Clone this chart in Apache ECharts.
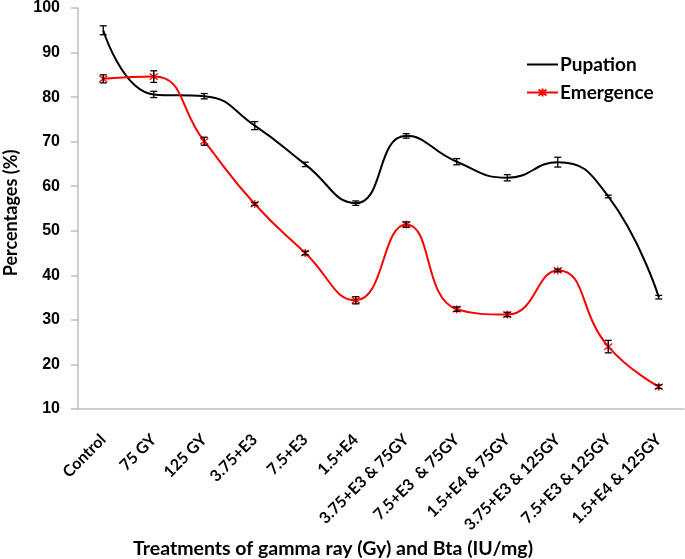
<!DOCTYPE html>
<html>
<head>
<meta charset="utf-8">
<script src="https://cdn.jsdelivr.net/npm/echarts@6/dist/echarts.min.js"></script>
<style>html,body{margin:0;padding:0;background:#fff}#c{width:685px;height:559px}</style>
</head>
<body>
<div id="c"></div>
<script>
const categories = ['Control','75 GY','125 GY','3.75+E3','7.5+E3','1.5+E4','3.75+E3 & 75GY','7.5+E3  & 75GY','1.5+E4 & 75GY','3.75+E3 & 125GY','7.5+E3 & 125GY','1.5+E4 & 125GY'];
const pupation = [95.0, 80.6, 80.2, 73.6, 64.9, 56.2, 71.3, 65.5, 61.9, 65.4, 57.7, 35.1];
const pupationErr = [1.0, 0.7, 0.6, 0.9, 0.5, 0.5, 0.5, 0.7, 0.7, 1.1, 0.3, 0.4];
const emergence = [84.1, 84.6, 70.1, 56.0, 45.0, 34.4, 51.4, 32.4, 31.2, 41.1, 24.0, 15.0];
const emergenceErr = [0.9, 1.3, 0.9, 0.3, 0.4, 0.8, 0.6, 0.5, 0.5, 0.3, 1.4, 0.4];
const yTicks = {min: 10, max: 100, interval: 10};

const FONT = 'Lato';
function errData(vals, errs){ return vals.map((v,i)=>[i, v-errs[i], v+errs[i]]); }
function renderErr(params, api){
  const i = api.value(0);
  const lo = api.coord([i, api.value(1)]);
  const hi = api.coord([i, api.value(2)]);
  const w = 3.5;
  const st = {stroke:'#000', lineWidth:1.3};
  return {type:'group', children:[
    {type:'line', shape:{x1:lo[0],y1:lo[1],x2:hi[0],y2:hi[1]}, style:st},
    {type:'line', shape:{x1:lo[0]-w,y1:lo[1],x2:lo[0]+w,y2:lo[1]}, style:st},
    {type:'line', shape:{x1:hi[0]-w,y1:hi[1],x2:hi[0]+w,y2:hi[1]}, style:st}
  ]};
}
const asterisk = 'path://M-1,-1L1,1M-1,1L1,-1M0,-1.3L0,1.3';

const chart = echarts.init(document.getElementById('c'));
chart.setOption({
  animation:false,
  backgroundColor:'#fff',
  grid:{left:78, right:1, top:6, bottom:150, containLabel:false},
  legend:{
    data:[{name:'Pupation', itemStyle:{opacity:0}}, {name:'Emergence'}], orient:'vertical', left:521, top:50,
    itemWidth:31, itemHeight:10, itemGap:9,
    textStyle:{fontFamily:FONT, fontWeight:'bold', fontSize:19, color:'#000', padding:[0,0,0,-3]}
  },
  xAxis:{
    type:'category', data:categories, boundaryGap:true,
    axisLine:{lineStyle:{color:'#bfbfbf', width:1.5}},
    axisTick:{show:false},
    axisLabel:{interval:0, rotate:45, margin:28, fontFamily:FONT, fontWeight:'bold', fontSize:16, color:'#000'}
  },
  yAxis:{
    type:'value', min:yTicks.min, max:yTicks.max, interval:yTicks.interval,
    splitLine:{show:false},
    axisLine:{show:true, lineStyle:{color:'#bfbfbf', width:1.5}},
    axisTick:{show:true, length:7, lineStyle:{color:'#bfbfbf', width:1.5}},
    axisLabel:{margin:18, fontFamily:'Liberation Sans', fontWeight:'bold', fontSize:16, color:'#000'}
  },
  graphic:[
    {type:'text', left:133, top:539, style:{text:'Treatments of gamma ray (Gy) and Bta (IU/mg)', font:'bold 19.5px Lato', fill:'#000'}},
    {type:'text', x:11, y:213, rotation:Math.PI/2, style:{text:'Percentages (%)', font:'bold 18px Lato', fill:'#000', align:'center', verticalAlign:'middle'}}
  ],
  series:[
    {name:'Pupation', type:'line', data:pupation, smooth:0.5, symbol:'none', lineStyle:{color:'#000', width:2}, itemStyle:{color:'#000'}, z:3},
    {name:'Emergence', type:'line', data:emergence, smooth:0.5, symbol:asterisk, symbolSize:8, showSymbol:true,
      lineStyle:{color:'#ff0000', width:2}, itemStyle:{color:'#ff0000', borderColor:'#ff0000', borderWidth:1.3}, z:3},
    {type:'custom', name:'errP', data:errData(pupation,pupationErr), renderItem:renderErr, z:4, silent:true},
    {type:'custom', name:'errE', data:errData(emergence,emergenceErr), renderItem:renderErr, z:4, silent:true}
  ]
});
</script>
</body>
</html>
